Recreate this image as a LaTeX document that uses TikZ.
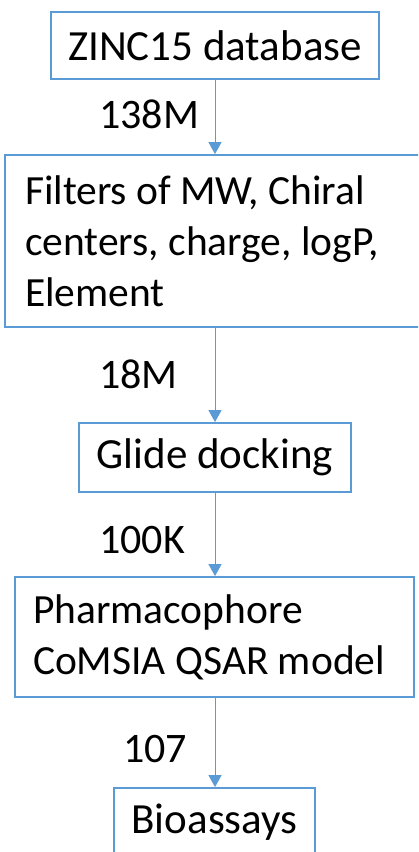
\documentclass[tikz,border=0pt]{standalone}
\usepackage{fontspec}
\setmainfont{Carlito}
\usetikzlibrary{arrows.meta}
\definecolor{boxblue}{HTML}{5B9BD5}
\begin{document}
\begin{tikzpicture}[x=1pt,y=-1pt,
    box/.style={draw=boxblue,line width=1.8pt,fill=white,inner sep=0pt,font=\fontsize{43}{51}\selectfont},
    multi/.style={box,align=flush left,inner xsep=#1,font=\fontsize{41.5}{51}\selectfont},
    flow/.style={draw=boxblue,line width=1pt,-{Triangle[width=13pt,length=12pt]}},
    count/.style={anchor=base west,inner sep=0pt,font=\fontsize{42}{48}\selectfont}]
        \useasboundingbox (0,0) rectangle (418,852);
        \clip (0,0) rectangle (418,852);
        \node[box,minimum width=328pt,minimum height=67pt] (A) at (215,45.5) {ZINC15 database};
        \node[multi=20pt,text width=405pt,minimum height=172pt] (B) at (227.5,241) {Filters of MW, Chiral\\centers, charge, logP,\\Element};
        \node[box,minimum width=272pt,minimum height=69pt] (C) at (215,457.5) {Glide docking};
        \node[multi=18pt,text width=363pt,minimum height=120pt] (D) at (214.5,637) {Pharmacophore\\CoMSIA QSAR model};
        \node[box,minimum width=201pt,minimum height=69pt] (E) at (214.5,822.5) {Bioassays};
        \node[count] (L1) at (99,128) {138M};
        \node[count] (L2) at (99,388) {18M};
        \node[count] (L3) at (99,553) {100K};
        \node[count] (L4) at (123,762) {107};
        \draw[flow] (A) -- (A |- B.north);
        \draw[flow] (B.south -| A) -- (A |- C.north);
        \draw[flow] (C) -- (C |- D.north);
        \draw[flow] (D.south -| C) -- (C |- E.north);
\end{tikzpicture}
\end{document}
